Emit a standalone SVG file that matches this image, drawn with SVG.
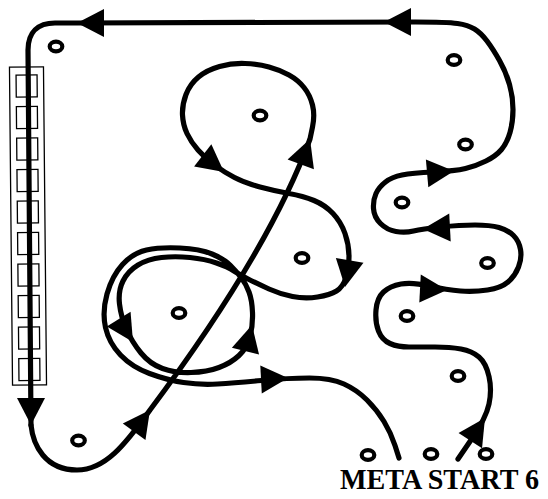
<svg xmlns="http://www.w3.org/2000/svg" width="548" height="499" viewBox="0 0 548 499">
<style>
.route{fill:none;stroke:#000;stroke-width:5.2;stroke-linecap:round;stroke-linejoin:round}
.hole{fill:#fff;stroke:#000;stroke-width:4.2}
.rack{fill:none;stroke:#000;stroke-width:1.3}
.lbl{font-family:"Liberation Serif","Times New Roman",serif;font-weight:bold;font-size:29px;fill:#000}
</style>
<defs>
<path id="ah" d="M0,0 L-27,-14 L-27,14 Z" fill="#000"/>
</defs>
<rect width="548" height="499" fill="#fff"/>
<g id="rack" transform="rotate(-0.55 28 226)">
<rect class="rack" x="11" y="67" width="34" height="318"/>
<rect class="rack" x="17.5" y="75" width="21" height="22"/>
<rect class="rack" x="17.5" y="106.5" width="21" height="22"/>
<rect class="rack" x="17.5" y="138" width="21" height="22"/>
<rect class="rack" x="17.5" y="169.5" width="21" height="22"/>
<rect class="rack" x="17.5" y="201" width="21" height="22"/>
<rect class="rack" x="17.5" y="232.5" width="21" height="22"/>
<rect class="rack" x="17.5" y="264" width="21" height="22"/>
<rect class="rack" x="17.5" y="295.5" width="21" height="22"/>
<rect class="rack" x="17.5" y="327" width="21" height="22"/>
<rect class="rack" x="17.5" y="358.5" width="21" height="22"/>
</g>
<g id="holes">
<ellipse id="h1" class="hole" cx="56" cy="46.5" rx="6.3" ry="4.8"/>
<ellipse id="h2" class="hole" cx="260" cy="115.5" rx="6.3" ry="4.8"/>
<ellipse id="h3" class="hole" cx="454" cy="60" rx="6.3" ry="4.8"/>
<ellipse id="h4" class="hole" cx="465.5" cy="144.5" rx="6.3" ry="4.8"/>
<ellipse id="h5" class="hole" cx="402" cy="202.5" rx="6.3" ry="4.8"/>
<ellipse id="h6" class="hole" cx="302" cy="258" rx="6.3" ry="4.8"/>
<ellipse id="h7" class="hole" cx="487.5" cy="263" rx="6.3" ry="4.8"/>
<ellipse id="h8" class="hole" cx="407" cy="316" rx="6.3" ry="4.8"/>
<ellipse id="h9" class="hole" cx="179" cy="313" rx="6.3" ry="4.8"/>
<ellipse id="h10" class="hole" cx="458" cy="376" rx="6.3" ry="4.8"/>
<ellipse id="h11" class="hole" cx="78.5" cy="440.5" rx="6.3" ry="4.8"/>
<ellipse id="h12" class="hole" cx="368" cy="455" rx="6.3" ry="4.8"/>
<ellipse id="h13" class="hole" cx="431" cy="454" rx="6.3" ry="4.8"/>
<ellipse id="h14" class="hole" cx="486" cy="454" rx="6.3" ry="4.8"/>
</g>
<g id="connectors">
<path class="route" d="M458,459 L472,438.5 Q486,418 489,404 Q492,390 489,376.5 Q486,363 479,357 Q472,351 461,349 Q450,347 435,347 Q420,347 409,347 Q398,347 390,343.5 Q382,340 378.5,331 Q375,322 376,310 Q377,298 383.5,292 Q390,286 401,284 Q412,282 429.5,286 Q447,290 460.5,291 Q474,292 487.5,290 Q501,288 508,282 Q515,276 518.5,267 Q522,258 520.5,249.5 Q519,241 513.5,235.5 Q508,230 499,227.5 Q490,225 475,225 Q460,225 441,227 Q422,229 413.5,231 Q405,233 396,231.5 Q387,230 380.5,223.5 Q374,217 373.5,208.5 Q373,200 376,193.5 Q379,187 385.5,182 Q392,177 402,175 Q412,173 433.5,172 Q455,171 465.5,168.5 Q476,166 486,161 Q496,156 501.5,149.5 Q507,143 510,132.5 Q513,122 513,109.5 Q513,97 509.5,84.5 Q506,72 499.5,60.5 Q493,49 487,41 Q481,33 474.5,29 Q468,25 457.5,23.5 Q447,22 415.5,22 L77,23 L55,23 C38,23 28,32 28,50 L31,425"/>
<path class="route" d="M31,425 C33,445 45,470 77,470 C105,470 125,445 150,410 Q269,251 310,139 L312.5,127 Q315,115 312.5,105 Q310,95 304,87.5 Q298,80 289,75 Q280,70 269,67 Q258,64 245,63.5 Q232,63 219.5,66.5 Q207,70 198.5,77 Q190,84 186,94.5 Q182,105 182.5,115 Q183,125 187,133.5 Q191,142 198,150 Q205,158 214.5,165 Q224,172 234.5,177.5 Q245,183 260,187 Q275,191 289,193.5 Q303,196 314,200.5 Q325,205 333,213.5 Q341,222 345,233.5 Q349,245 349,256.5 Q349,268 346,277.5 Q343,287 336.5,291 Q330,295 317.5,297 Q305,299 292.5,296.5 Q280,294 269,289 Q258,284 249,279.5 Q240,275 234,271 Q228,267 216.5,263 Q205,259 190,257.5 Q175,256 161.5,257.5 Q148,259 138,265 Q128,271 123,281 Q118,291 119.5,304 Q121,317 126.5,329.5 Q132,342 141,353 Q150,364 162.5,368.5 Q175,373 191,372.5 Q207,372 219,367.5 Q231,363 239,355.5 Q247,348 250,336.5 Q253,325 252.5,312.5 Q252,300 249,292 Q246,284 241.5,278 Q237,272 230.5,265.5 Q224,259 212,254 Q200,249 180,248 Q160,247 146.5,250 Q133,253 122.5,264.5 Q112,276 107,294 Q102,312 105.5,327.5 Q109,343 120.5,355 Q132,367 149.5,373.5 Q167,380 183.5,382.5 Q200,385 217.5,384 Q235,383 261.5,380.5 Q288,378 309.5,378 Q331,378 344,384 Q357,390 367,400 Q377,410 384,421.5 Q391,433 395,445.5 L399,458"/>
<use href="#ah" transform="translate(485,418) rotate(-57)"/>
<use href="#ah" transform="translate(447,290) rotate(3)"/>
<use href="#ah" transform="translate(423,229) rotate(177)"/>
<use href="#ah" transform="translate(454,171) rotate(-5)"/>
<use href="#ah" transform="translate(384,22) rotate(180)"/>
<use href="#ah" transform="translate(77,23) rotate(180)"/>
<use href="#ah" transform="translate(31,425) rotate(90)"/>
<use href="#ah" transform="translate(150,410) rotate(-54)"/>
<use href="#ah" transform="translate(310,139) rotate(-70)"/>
<use href="#ah" transform="translate(224,172) rotate(38)"/>
<use href="#ah" transform="translate(345,287) rotate(100)"/>
<use href="#ah" transform="translate(133,342) rotate(58)"/>
<use href="#ah" transform="translate(252,325) rotate(-76)"/>
<use href="#ah" transform="translate(288,378) rotate(-3)"/>
</g>
<g id="label">
<text class="lbl" x="340" y="489" textLength="199" lengthAdjust="spacingAndGlyphs">META START 6</text>
</g>
</svg>
